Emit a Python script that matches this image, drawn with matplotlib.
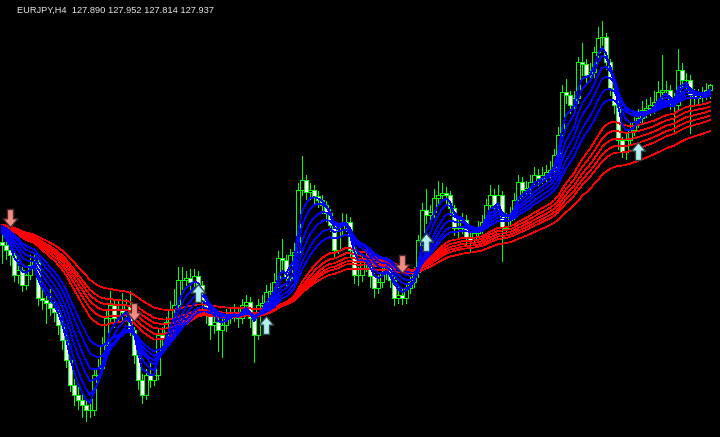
import matplotlib
matplotlib.use("Agg")
import matplotlib.pyplot as plt
from matplotlib.path import Path

# ---------------- data ----------------
title_text = "EURJPY,H4  127.890 127.952 127.814 127.937"
first_open = 126.37
closes = [
    126.34, 126.29, 126.24, 126.04, 126.09, 125.94, 126.04, 126.14, 126.17, 125.81,
    125.79, 125.76, 125.71, 125.67, 125.54, 125.39, 125.19, 124.94, 124.84, 124.79,
    124.74, 124.69, 124.69, 125.04, 125.11, 125.34, 125.61, 125.74, 125.61, 125.69,
    125.67, 125.74, 125.49, 125.24, 124.99, 124.84, 125.04, 124.99, 125.04, 125.44,
    125.41, 125.57, 125.69, 125.74, 125.99, 125.99, 126.01, 125.97, 126.03, 125.94,
    125.79, 125.64, 125.54, 125.57, 125.49, 125.54, 125.61, 125.64, 125.67, 125.61,
    125.74, 125.77, 125.61, 125.44, 125.74, 125.76, 125.87, 125.88, 125.97, 126.21,
    126.19, 126.01, 126.24, 126.27, 126.89, 126.99, 126.87, 126.89, 126.83, 126.79,
    126.74, 126.66, 126.54, 126.29, 126.49, 126.57, 126.57, 126.29, 126.04, 126.04,
    126.19, 126.17, 126.03, 125.91, 125.97, 126.06, 126.13, 125.99, 125.81, 125.84,
    125.81, 125.91, 125.97, 126.07, 126.39, 126.69, 126.64, 126.67, 126.81, 126.84,
    126.86, 126.84, 126.71, 126.51, 126.51, 126.59, 126.41, 126.39, 126.46, 126.51,
    126.57, 126.74, 126.84, 126.74, 126.84, 126.51, 126.59, 126.64, 126.79, 126.97,
    126.89, 126.91, 126.97, 127.04, 127.01, 127.04, 127.07, 127.09, 127.24, 127.44,
    127.87, 127.84, 127.74, 127.81, 128.17, 128.15, 128.04, 128.07, 128.27, 128.41,
    128.42, 128.17, 127.91, 127.74, 127.39, 127.27, 127.39, 127.49, 127.57, 127.61,
    127.69, 127.71, 127.74, 127.77, 127.87, 127.89, 127.89, 127.77, 127.74, 128.09,
    127.99, 127.99, 127.84, 127.81, 127.84, 127.84, 127.89, 127.937,
]
highs = [
    126.45, 126.40, 126.36, 126.28, 126.22, 126.12, 126.08, 126.24, 126.26, 126.22,
    125.89, 125.86, 125.90, 125.78, 125.72, 125.58, 125.44, 125.24, 125.00, 124.92,
    124.84, 124.80, 124.78, 125.10, 125.20, 125.42, 125.68, 125.88, 125.80, 125.78,
    125.86, 125.80, 125.88, 125.52, 125.28, 125.05, 125.10, 125.18, 125.10, 125.50,
    125.52, 125.62, 125.78, 125.90, 126.12, 126.12, 126.08, 126.10, 126.10, 126.08,
    125.98, 125.82, 125.70, 125.66, 125.62, 125.60, 125.70, 125.72, 125.75, 125.72,
    125.80, 125.84, 125.82, 125.66, 125.80, 125.84, 125.94, 125.96, 126.06, 126.28,
    126.40, 126.24, 126.30, 126.36, 126.96, 127.23, 127.04, 126.96, 126.94, 126.88,
    126.84, 126.78, 126.70, 126.58, 126.56, 126.66, 126.65, 126.62, 126.32, 126.12,
    126.24, 126.26, 126.22, 126.06, 126.04, 126.12, 126.20, 126.18, 126.02, 125.92,
    125.90, 125.96, 126.02, 126.12, 126.44, 126.76, 126.90, 126.74, 126.90, 126.98,
    126.96, 126.92, 126.88, 126.74, 126.60, 126.66, 126.64, 126.48, 126.52, 126.58,
    126.64, 126.80, 126.94, 126.90, 126.94, 126.88, 126.66, 126.72, 126.86, 127.04,
    127.02, 126.98, 127.04, 127.12, 127.10, 127.12, 127.14, 127.18, 127.30, 127.52,
    127.94, 128.00, 127.88, 127.88, 128.22, 128.36, 128.20, 128.16, 128.32, 128.52,
    128.58, 128.46, 128.20, 127.94, 127.78, 127.42, 127.46, 127.56, 127.66, 127.70,
    127.78, 127.80, 127.82, 127.88, 127.98, 128.24, 127.98, 127.94, 127.86, 128.30,
    128.16, 128.06, 128.04, 127.90, 127.90, 127.92, 127.96, 127.952,
]
lows = [
    126.16, 126.20, 126.14, 125.98, 125.96, 125.88, 125.90, 126.00, 126.10, 125.74,
    125.70, 125.56, 125.64, 125.58, 125.45, 125.30, 125.12, 124.88, 124.74, 124.70,
    124.62, 124.58, 124.62, 124.64, 124.98, 125.06, 125.30, 125.56, 125.52, 125.58,
    125.58, 125.60, 125.44, 125.16, 124.90, 124.76, 124.80, 124.92, 124.94, 125.00,
    125.32, 125.36, 125.52, 125.60, 125.70, 125.90, 125.92, 125.90, 125.92, 125.88,
    125.70, 125.56, 125.40, 125.46, 125.28, 125.22, 125.48, 125.56, 125.58, 125.52,
    125.56, 125.66, 125.52, 125.17, 125.40, 125.68, 125.70, 125.82, 125.82, 125.92,
    126.10, 125.94, 125.96, 126.14, 126.22, 126.84, 126.80, 126.80, 126.74, 126.72,
    126.66, 126.58, 126.48, 126.22, 126.26, 126.44, 126.48, 126.22, 125.96, 125.94,
    125.98, 126.08, 125.92, 125.82, 125.86, 125.92, 126.00, 125.92, 125.74, 125.76,
    125.75, 125.76, 125.86, 125.92, 126.02, 126.34, 126.56, 126.56, 126.62, 126.76,
    126.78, 126.76, 126.64, 126.44, 126.42, 126.46, 126.34, 126.28, 126.34, 126.42,
    126.46, 126.52, 126.70, 126.66, 126.68, 126.18, 126.46, 126.54, 126.60, 126.74,
    126.82, 126.84, 126.86, 126.92, 126.94, 126.96, 126.98, 127.00, 127.04, 127.18,
    127.40, 127.76, 127.66, 127.70, 127.76, 128.04, 127.96, 127.98, 128.02, 128.22,
    128.34, 128.10, 127.84, 127.66, 127.30, 127.22, 127.20, 127.34, 127.44, 127.52,
    127.56, 127.62, 127.64, 127.66, 127.72, 127.80, 127.82, 127.70, 127.46, 127.70,
    127.92, 127.90, 127.46, 127.74, 127.76, 127.78, 127.80, 127.814,
]
ma_seed = 126.55
fast_periods = [4, 6, 9, 12, 16, 20]
slow_periods = [30, 35, 40, 45, 50, 62]
sell_idx = [2, 33, 100]
sell_price = [126.61, 125.67, 126.15]
buy_idx = [49, 66, 106, 159]
buy_price = [125.86, 125.54, 126.37, 127.28]

# ---------------- helpers ----------------
opens = [first_open] + closes[:-1]


def ema(values, period, seed):
    k = 2.0 / (period + 1)
    out, prev = [], seed
    for v in values:
        prev = prev + k * (v - prev)
        out.append(prev)
    return out


n = len(closes)
idx = list(range(n))

fig = plt.figure(figsize=(7.2, 4.37), dpi=100)
fig.patch.set_facecolor("black")
ax = fig.add_axes([0, 0, 1, 1])
ax.set_facecolor("black")
ax.set_xlim(-0.5, 179.5)
ax.set_ylim(124.42, 128.79)
ax.axis("off")

lime = "#00FF00"
lw = 0.72
# wicks
ax.vlines(idx, lows, highs, color=lime, linewidth=lw, zorder=2, antialiased=False)
# bodies
for i in idx:
    o, c = opens[i], closes[i]
    bottom = min(o, c)
    h = abs(c - o)
    if h < 0.012:
        ax.hlines(c, i - 0.4, i + 0.4, color=lime, linewidth=lw, zorder=3,
                  antialiased=False)
        continue
    face = "black" if c > o else "white"
    ax.bar(i, h, bottom=bottom, width=0.8, color=face, edgecolor=lime,
           linewidth=lw, zorder=3, antialiased=False)

# moving averages
for p in slow_periods:
    ax.plot(idx, ema(closes, p, ma_seed), color="#FF0000", linewidth=0.5, zorder=4,
            antialiased=False)
for p in fast_periods:
    ax.plot(idx, ema(closes, p, ma_seed), color="#0000FF", linewidth=0.5, zorder=5,
            antialiased=False)

# arrow markers
up_arrow = Path([(0, 0.5), (0.4, 0.02), (0.17, 0.02), (0.17, -0.5), (-0.17, -0.5),
                 (-0.17, 0.02), (-0.4, 0.02), (0, 0.5)],
                [Path.MOVETO] + [Path.LINETO] * 6 + [Path.CLOSEPOLY])
down_arrow = Path([(x, -y) for x, y in up_arrow.vertices], up_arrow.codes)
ax.plot(buy_idx, buy_price, linestyle="none", marker=up_arrow, markersize=13,
        markerfacecolor="#B4F0F0", markeredgecolor="#2A4848", markeredgewidth=1.0, zorder=6)
ax.plot(sell_idx, sell_price, linestyle="none", marker=down_arrow, markersize=13,
        markerfacecolor="#F08C80", markeredgecolor="#4A2A2A", markeredgewidth=1.0, zorder=6)

fig.text(17 / 720, 1 - 13 / 437, title_text, color="#E8E8E8", fontsize=6.7,
         family="Liberation Sans", va="baseline", ha="left")

fig.savefig("out.png", dpi=100, facecolor="black")
